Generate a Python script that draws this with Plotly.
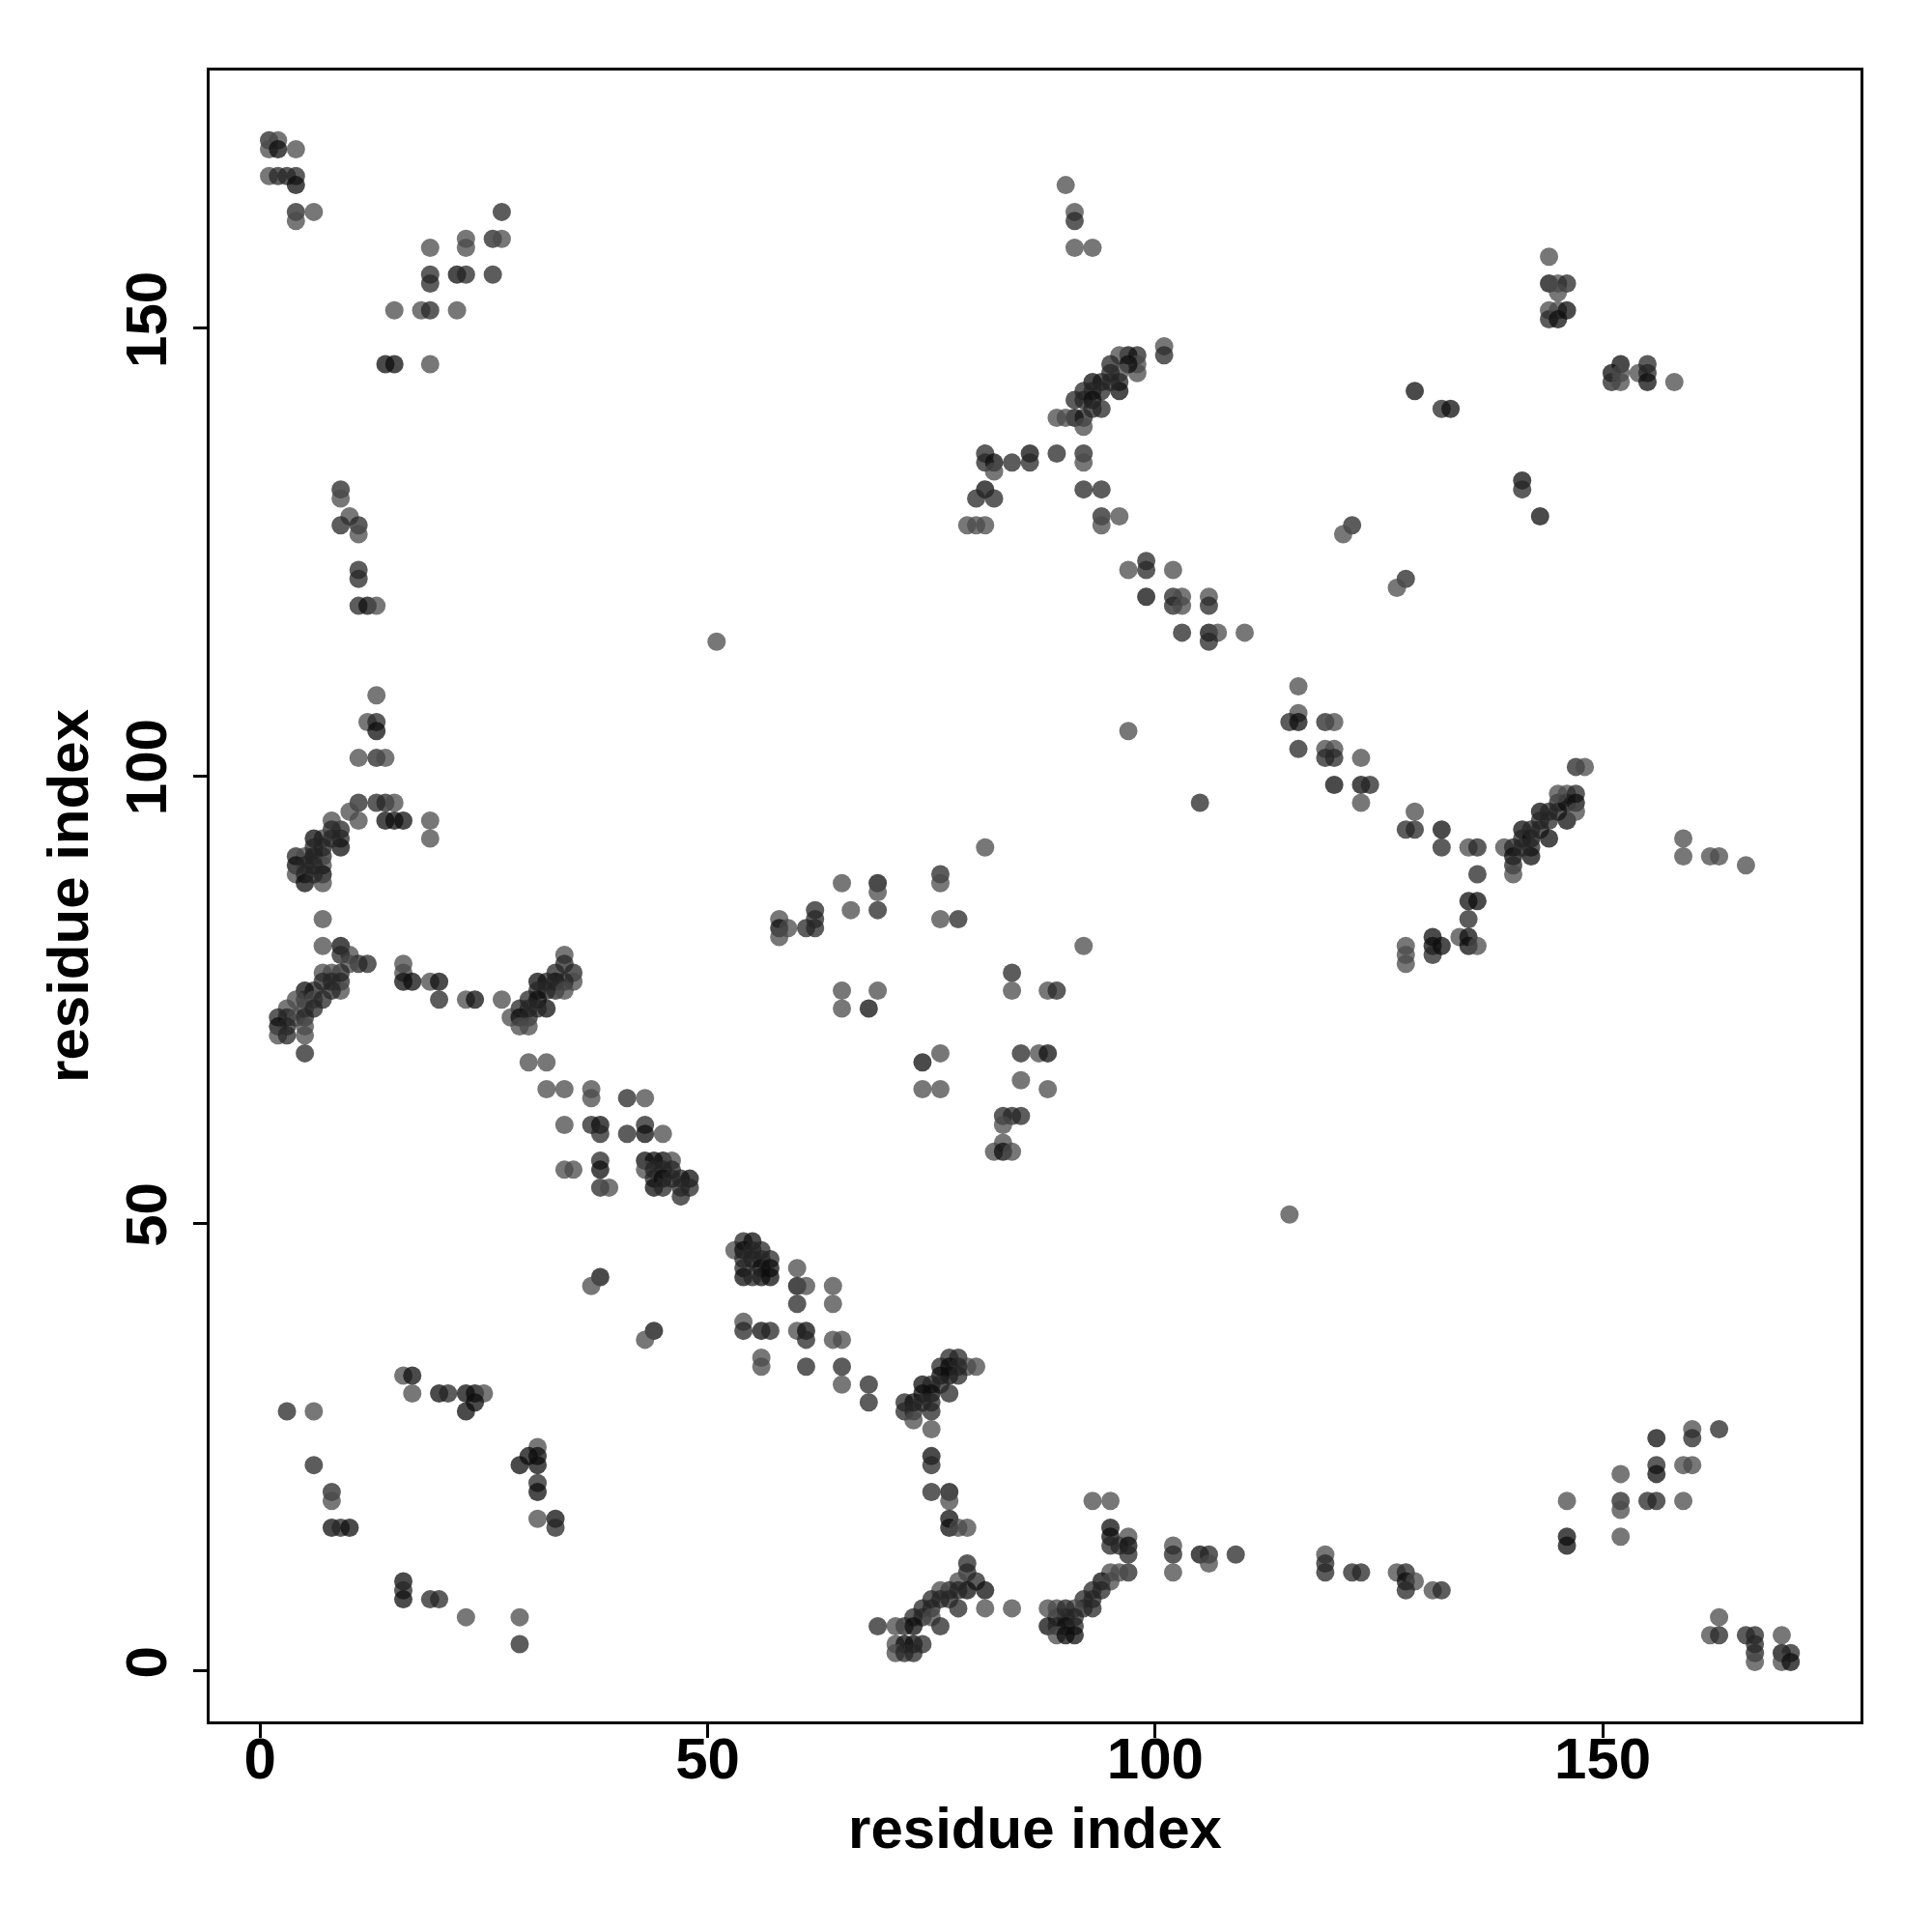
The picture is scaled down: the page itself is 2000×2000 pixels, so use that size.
import plotly.graph_objects as go

# contact map: (residue i, residue j, shade level 1=light 2=mid 3=dark)
pts = [
# top-left
(1,171,2),(2,171,1),(1,170,1),(2,170,3),(4,170,1),(1,167,1),(2,167,2),(3,167,2),(4,167,2),(4,166,3),(4,163,2),(6,163,1),(4,162,1),
(19,159,1),(23,160,1),(23,159,1),(26,160,2),(27,160,1),(27,163,2),
(19,156,2),(19,155,2),(22,156,3),(23,156,2),(26,156,2),
(15,152,1),(18,152,1),(19,152,2),(22,152,1),
(14,146,3),(15,146,3),(19,146,1),
(9,132,2),
# top-middle
(90,166,1),(91,163,1),(91,162,2),(91,159,1),(93,159,1),(101,148,1),(101,147,2),
(98,147,2),(97,147,3),(96,147,1),(98,146,1),(98,145,1),(97,146,3),(95,146,2),(96,145,1),(95,145,2),(96,144,2),(96,143,3),(95,144,2),(94,144,2),(93,144,3),(94,143,2),(93,143,2),(92,143,2),(92,142,2),(93,142,3),(91,142,2),(94,141,2),(93,141,2),(92,140,2),(91,140,3),(90,140,1),(89,140,1),(92,139,1),
(81,136,2),(81,135,2),(82,135,3),(82,134,1),(84,135,2),(86,136,3),(86,135,2),(89,136,2),(92,136,2),(92,135,1),(81,132,3),(80,131,2),(82,131,2),(92,132,2),(94,132,2),
# top-right
(144,158,1),(144,155,3),(145,155,1),(146,155,2),(145,154,1),(144,152,1),(144,151,2),(145,152,1),(145,151,3),(146,152,3),
(151,145,3),(152,146,3),(151,144,2),(152,144,1),(152,145,1),(154,145,1),(155,146,2),(155,145,2),(155,144,3),(158,144,1),
(129,143,3),(132,141,2),(133,141,3),(141,133,3),(141,132,2),
# upper-middle left
(9,131,1),(10,129,1),(9,128,2),(11,128,2),(11,127,1),(11,123,2),(11,122,2),(11,119,2),(12,119,3),(13,119,1),(51,115,1),
(13,109,1),(12,106,1),(13,106,2),(13,105,3),(11,102,1),(13,102,2),(14,102,1),
(11,97,2),(13,97,2),(14,97,2),(15,97,1),(14,95,3),(15,95,3),(16,95,3),(19,95,1),(19,93,1),(11,95,1),(10,96,1),
(9,94,2),(8,95,1),(8,94,2),(7,93,1),(9,93,2),(6,93,3),(7,92,2),(9,92,3),(4,91,2),(5,91,1),(6,91,3),(7,91,2),(4,90,3),(5,90,2),(7,90,1),(4,89,1),(5,89,2),(7,89,3),(5,88,3),(7,88,1),
(6,92,2),(8,93,2),(6,90,2),(6,89,2),
# upper-middle centre
(79,128,1),(80,128,1),(81,128,1),(94,129,2),(94,128,1),(96,129,1),
(97,123,1),(99,124,2),(99,123,2),(102,123,1),(99,120,3),(102,120,2),(103,120,1),(102,119,2),(103,119,1),(106,120,1),(106,119,2),
(103,116,2),(106,116,3),(107,116,1),(106,115,2),(110,116,1),
(116,110,1),(116,107,1),(115,106,2),(116,106,3),(116,103,2),
(97,105,1),(105,97,2),(81,92,1),(76,89,2),(76,88,1),(65,88,1),(69,88,3),(69,87,1),
# upper-middle right
(122,128,2),(121,127,1),(143,129,3),(128,122,2),(127,121,1),
(119,106,2),(120,106,1),(119,103,1),(120,103,1),(119,102,2),(120,102,2),(123,102,1),
(120,99,3),(123,99,3),(124,99,2),(123,97,1),(129,96,1),(128,94,2),(129,94,2),(132,94,3),(132,92,2),(135,92,1),(136,92,2),(136,89,2),(135,86,3),(136,86,3),
(139,92,1),(140,92,2),(140,91,3),(140,90,2),(140,89,1),(141,94,3),(141,93,2),(142,93,3),(142,92,2),(142,91,3),(143,94,2),(143,96,3),(144,96,2),(144,95,2),(144,93,3),(145,97,2),(145,96,2),(146,98,1),(146,97,3),(146,95,3),(147,98,2),(147,97,3),(147,96,1),(145,98,1),(147,101,2),(148,101,1),(143,95,2),(142,94,2),(141,92,2),
(159,93,1),(159,91,1),(162,91,1),(163,91,1),(166,90,1),
# lower-middle left
(7,84,1),(7,81,1),(9,81,3),(10,80,1),(9,80,2),(11,79,2),(12,79,2),(10,79,1),(9,78,2),(8,78,1),(7,78,1),(9,77,2),(8,77,2),(7,77,2),(9,76,1),(8,76,2),(6,76,2),(5,76,3),(5,75,2),(6,75,1),(7,75,2),(4,75,1),(5,74,1),(6,74,2),(3,74,1),(2,73,2),(3,73,2),(4,73,1),(5,73,2),(2,72,3),(3,72,2),(5,72,1),(2,71,1),(3,71,2),(5,71,1),(5,69,2),
(16,79,1),(16,78,1),(16,77,3),(17,77,3),(19,77,1),(20,77,3),(20,75,2),(23,75,1),(24,75,3),(27,75,1),
(34,80,1),(34,79,2),(35,78,2),(35,77,1),(33,78,2),(33,77,3),(34,77,2),(32,77,2),(31,77,3),(31,76,2),(32,76,2),(33,76,2),(34,76,1),(30,75,2),(31,75,3),(32,74,3),(29,74,2),(30,74,2),(31,74,2),(28,73,1),(29,73,3),(30,73,2),(29,72,1),(30,72,1),
(30,68,1),(32,68,1),(32,65,1),(34,65,1),(37,65,1),(37,64,1),(41,64,2),(43,64,1),
(34,61,1),(37,61,2),(38,61,3),(38,60,2),(41,60,2),(43,61,2),(43,60,3),(45,60,1),
(34,56,1),(35,56,1),(38,57,2),(38,56,3),(38,54,2),(39,54,1),
(43,57,3),(44,57,3),(45,57,3),(46,57,1),(43,56,1),(44,56,2),(45,56,2),(46,56,2),(44,55,2),(45,55,3),(46,55,2),(47,55,2),(48,55,3),(44,54,3),(45,54,2),(47,54,2),(48,54,2),(47,53,2),
(38,44,3),(37,43,1),
(53,47,1),(54,48,2),(55,48,3),(54,47,3),(55,46,3),(54,45,2),(54,44,3),(56,46,2),(56,45,3),(56,44,3),(55,44,2),(55,47,2),(56,47,2),(54,46,2),
# lower-middle centre
(58,84,1),(58,83,3),(59,83,1),(58,82,1),(61,83,2),(62,83,2),(62,84,2),(62,85,2),(66,85,1),(69,85,2),
(76,84,1),(78,84,2),(92,81,1),(84,78,2),(84,76,1),(88,76,1),(89,76,2),(65,76,1),(69,76,1),(65,74,1),(68,74,3),
(76,69,1),(74,68,3),(74,65,1),(76,65,1),(85,69,2),(87,69,1),(88,69,3),(85,66,1),(88,65,1),
(83,62,2),(84,62,2),(85,62,2),(83,61,1),(83,59,1),(82,58,1),(83,58,3),(84,58,1),
(115,51,1),
(57,46,2),(57,45,3),(57,44,3),(60,45,1),(60,43,3),(61,43,1),(60,41,2),(64,43,1),(64,41,1),
# lower-middle right
(135,84,2),(128,81,1),(128,80,1),(128,79,1),(131,82,3),(131,81,3),(131,80,2),(132,81,3),(134,82,1),(135,82,3),(135,81,3),(136,81,1),
# bottom left
(44,38,3),(43,37,1),(54,39,1),(54,38,2),(56,38,3),(57,38,2),(56,35,1),(56,34,1),
(16,33,1),(17,33,3),(17,31,1),(20,31,3),(21,31,2),(23,31,3),(24,31,3),(25,31,1),(24,30,3),(23,29,3),
(3,29,2),(6,29,1),(6,23,2),(8,20,2),(8,19,1),(8,16,3),(9,16,2),(10,16,3),
(31,25,1),(30,24,3),(31,24,3),(29,23,3),(31,23,3),(31,21,2),(31,20,3),(31,17,1),(33,17,3),(33,16,2),
(16,10,3),(16,9,2),(16,8,3),(19,8,2),(20,8,2),(23,6,1),(29,6,1),(29,3,2),
# bottom centre
(60,38,1),(61,38,3),(61,37,2),(64,37,1),(65,37,1),(61,34,2),(65,34,2),(65,32,1),(68,32,2),(68,30,2),
(77,35,2),(78,35,2),(79,34,1),(80,34,1),(76,34,2),(77,34,3),(78,34,2),(76,33,3),(77,33,3),(78,33,2),(74,32,3),(75,32,2),(76,32,2),(74,31,3),(75,31,3),(77,31,2),(72,30,2),(73,30,3),(74,30,2),(75,30,2),(72,29,2),(73,29,2),(75,29,2),(73,28,1),(75,27,1),
(75,24,3),(75,23,2),(75,20,2),(77,20,3),(77,19,1),(77,17,3),(77,16,3),(78,16,1),(79,16,1),
(93,19,1),(95,19,1),(95,16,3),(95,15,3),(96,14,2),(97,15,1),(97,14,3),(97,13,2),(95,14,2),(97,11,2),(96,11,1),(95,11,1),
(102,14,1),(102,13,2),(102,11,1),(105,13,3),(106,13,2),(106,12,1),(109,13,2),
(79,12,2),(79,11,2),(78,10,1),(80,10,2),(81,9,3),(79,9,3),(78,9,2),(77,9,2),(76,9,1),(77,8,2),(78,7,2),(81,7,1),(84,7,1),(75,8,2),(76,8,2),(75,7,2),(74,7,2),(74,6,2),(75,6,1),(76,5,2),(73,6,2),(72,5,2),(73,5,3),(71,5,1),(69,5,2),(71,3,1),(72,3,3),(73,3,3),(74,3,2),(71,2,1),(72,2,2),(73,2,2),
(94,10,3),(95,10,1),(93,9,2),(94,9,2),(92,8,2),(93,8,2),(92,7,2),(93,7,2),(91,7,1),(91,6,2),(90,6,2),(89,6,2),(88,7,1),(89,7,1),(90,7,2),(88,5,3),(89,5,2),(90,5,3),(91,5,2),(89,4,1),(90,4,3),(91,4,3),
# bottom right
(119,13,1),(119,12,2),(119,11,2),(122,11,2),(123,11,2),(127,11,1),(128,11,2),(128,10,3),(129,10,1),(128,9,2),(131,9,1),(132,9,2),
(146,19,1),(146,15,3),(146,14,3),(152,22,1),(152,19,2),(152,18,1),(152,15,1),(155,19,2),(156,19,2),(159,19,1),(156,26,3),(156,23,2),(156,22,3),(159,23,1),(160,23,1),(160,27,1),(160,26,2),(163,27,2),
(163,6,1),(162,4,1),(163,4,2),(166,4,2),(167,4,2),(167,3,2),(167,2,2),(167,1,1),(170,4,1),(170,2,3),(171,2,2),(170,1,1),(171,1,3),
]

res_i = [p[0] for p in pts]
res_j = [p[1] for p in pts]
shade = [p[2] for p in pts]

tick_vals = [0, 50, 100, 150]
gray_of = {1: 74, 2: 38, 3: 14}
colors = [f"rgba({gray_of[s]},{gray_of[s]},{gray_of[s]},0.75)" for s in shade]

fig = go.Figure(go.Scatter(
    x=res_i, y=res_j, mode="markers",
    marker=dict(size=19, color=colors, line=dict(width=0)),
    hoverinfo="x+y", showlegend=False,
))

font_main = dict(family="Liberation Sans, Arial, sans-serif", size=60, color="black", weight="bold")
axis_common = dict(
    tickvals=tick_vals, ticktext=[str(v) for v in tick_vals],
    ticks="outside", ticklen=14, tickwidth=3, tickcolor="black",
    showline=True, linecolor="black", linewidth=3, mirror=True,
    showgrid=False, zeroline=False,
    tickfont=font_main,
    range=[-5.64, 178.8],
)

fig.update_layout(
    width=2000, height=2000,
    margin=dict(l=209, r=82, t=65, b=226),
    paper_bgcolor="white", plot_bgcolor="white",
    xaxis=dict(axis_common, ticklabelstandoff=-30,
               title=dict(text="residue index", font=font_main, standoff=18)),
    yaxis=dict(axis_common, tickangle=-90, ticklabelstandoff=4,
               title=dict(text="residue index", font=font_main, standoff=8)),
)

fig.write_html("out.html")
